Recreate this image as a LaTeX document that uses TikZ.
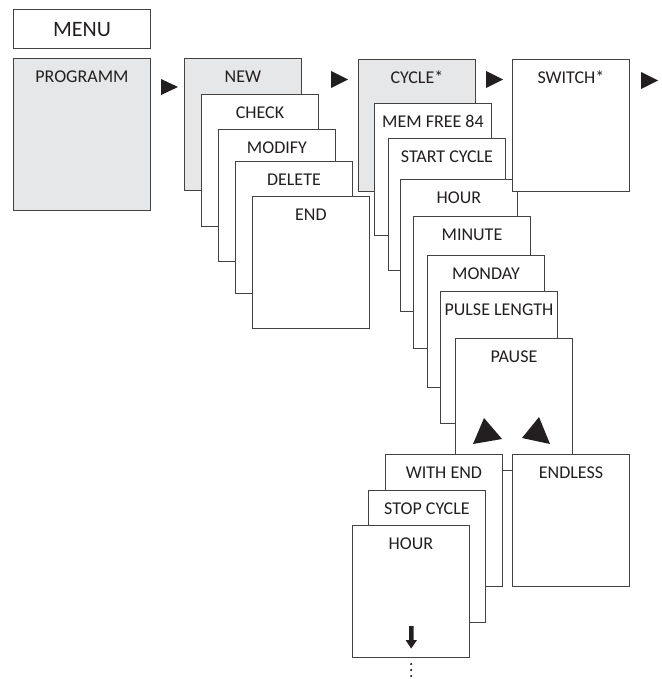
\documentclass[tikz,border=0pt]{standalone}
\usepackage{fontspec}
\setmainfont{Carlito}
\definecolor{boxgray}{HTML}{E6E7E8}
\definecolor{ink}{HTML}{231F20}
\begin{document}
\begin{tikzpicture}[x=1pt,y=-1pt,
  menubox/.style={draw=ink!85,line width=0.9pt,fill=white,rectangle,inner sep=0pt,anchor=north west,
    minimum width=117pt,minimum height=132pt},
  graybox/.style={menubox,fill=boxgray},
  txt/.style={label={[anchor=base,yshift=-24.5pt,text=ink,font=\fontsize{18}{20}\selectfont,inner sep=0pt,label distance=0pt]north:#1}},
  headtxt/.style={label={[anchor=base,yshift=-28pt,text=ink,font=\fontsize{22}{24}\selectfont,inner sep=0pt,label distance=0pt]north:#1}},
  tri/.style={fill=ink,draw=none}]
\useasboundingbox (0,0) rectangle (661,679);
% top
\node[menubox,minimum width=137pt,minimum height=39pt,headtxt=MENU] (menu) at (13,9) {};
\node[graybox,minimum width=137pt,minimum height=152pt,txt=PROGRAMM] (prog) at (13,58) {};
% second column
\node[graybox,txt=NEW] (new) at (184,58) {};
\node[menubox,txt=CHECK] (check) at (201,94) {};
\node[menubox,txt=MODIFY] (modify) at (218,129) {};
\node[menubox,txt=DELETE] (delete) at (235,161) {};
\node[menubox,txt=END] (endb) at (252,196) {};
% cycle column
\node[graybox,txt=CYCLE*] (cycle) at (358,59) {};
\node[menubox,txt=MEM FREE 84] (mem) at (374,103) {};
\node[menubox,txt=START CYCLE] (start) at (388,138) {};
\node[menubox,txt=HOUR] (hour) at (400,179) {};
\node[menubox,txt=MINUTE] (minute) at (413,216) {};
\node[menubox,txt=MONDAY] (monday) at (427,255) {};
\node[menubox,txt=PULSE LENGTH] (pulse) at (440,291) {};
\node[menubox,txt=PAUSE] (pause) at (455,338) {};
\fill[tri] (484,418) -- (473,444) -- (502,439) -- cycle;
\fill[tri] (539,417) -- (522,438) -- (550,444) -- cycle;
\node[menubox,txt=WITH END] (withend) at (385,454) {};
\node[menubox,txt=ENDLESS] (endless) at (512,454) {};
\node[menubox,txt=STOP CYCLE] (stop) at (368,490) {};
\node[menubox,txt=HOUR] (hour2) at (352,525) {};
% switch
\node[menubox,txt=SWITCH*] (switch) at (512,59) {};
% right arrows
\fill[tri] (161,79) -- (161,95) -- (178,87) -- cycle;
\fill[tri] (331,71) -- (331,88) -- (348,79.5) -- cycle;
\fill[tri] (486,71) -- (486,88) -- (503,79.5) -- cycle;
\fill[tri] (641,72) -- (641,89) -- (658,80.5) -- cycle;
% down arrow and dots
\fill[tri] (409,626) -- (413.5,626) -- (413.5,640) -- (417,640) -- (411.2,648.5) -- (405.5,640) -- (409,640) -- cycle;
\foreach \yy in {664,670,676} \fill[ink] (411.2,\yy) circle (1.2pt);
\end{tikzpicture}
\end{document}
